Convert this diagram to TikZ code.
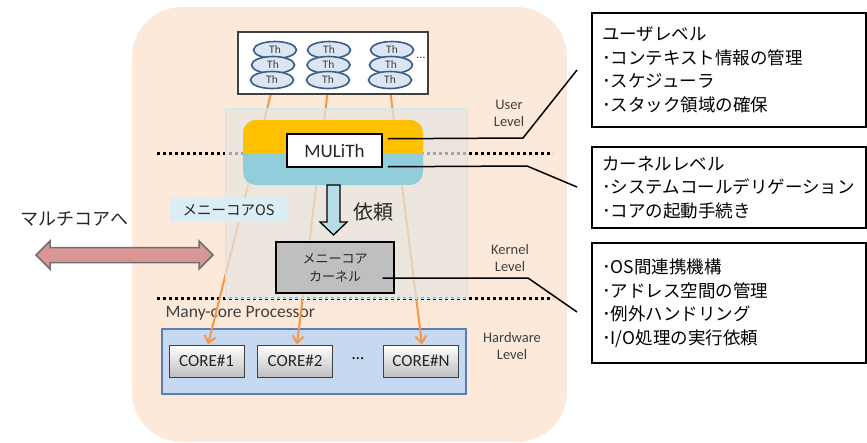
\documentclass[tikz,border=0pt]{standalone}
\usepackage{fontspec}
\setmainfont{Carlito}
\newfontfamily\jp{Noto Sans CJK JP}
\usetikzlibrary{shapes.geometric,shapes.arrows,arrows.meta}
\definecolor{peach}{HTML}{FDE9D9}
\definecolor{regiongray}{HTML}{E6E6E2}
\definecolor{regionedge}{HTML}{CFE6EE}
\definecolor{orangeln}{HTML}{F79646}
\definecolor{mulitop}{HTML}{FFC000}
\definecolor{mulibot}{HTML}{92CDDC}
\definecolor{arrowblue}{HTML}{B7DDE8}
\definecolor{kerngray}{HTML}{BFBFBF}
\definecolor{procblue}{HTML}{C6D9F1}
\definecolor{procedge}{HTML}{5A7EB0}
\definecolor{thfill}{HTML}{DCE6F2}
\definecolor{thedge}{HTML}{385D8A}
\definecolor{redarrow}{HTML}{D99694}
\definecolor{redarrowedge}{HTML}{6F6F6F}
\definecolor{oslabel}{HTML}{DAEEF3}
\definecolor{txtgray}{HTML}{404040}
\definecolor{txtdark}{HTML}{262626}
\tikzset{
  thnode/.style={ellipse,draw=thedge,line width=1.6pt,fill=thfill,minimum width=43pt,minimum height=17pt,inner sep=0pt,font=\fontsize{11.5}{11.5}\selectfont,text=txtgray},
  corebox/.style={draw=txtgray,line width=0.8pt,top color=white,bottom color=kerngray,minimum width=75pt,minimum height=32pt,inner sep=0pt,font=\fontsize{17}{17}\selectfont,text=txtdark},
  levellabel/.style={align=center,font=\fontsize{14.5}{17}\selectfont,text=txtgray},
  calloutbox/.style={draw=black,line width=1.5pt,fill=white,align=left,inner xsep=10pt,inner ysep=0pt,text width=254pt,font=\jp\fontsize{17.5}{23.5}\selectfont},
  levelline/.style={line width=3pt,dash pattern=on 3pt off 3pt},
  coreline/.style={draw=orangeln,line width=2pt,-{Straight Barb[length=7pt,width=11pt]}},
  calloutline/.style={draw=black,line width=1.5pt},
}
\begin{document}
\begin{tikzpicture}[x=1pt,y=-1pt]
\useasboundingbox (0,0) rectangle (867,442);
% background
\fill[peach,rounded corners=50pt] (132,7) rectangle (567,442);
% level separators
\draw[levelline] (157,153) -- (553,153);
\draw[levelline] (157,298) -- (553,298);
% processor
\node[draw=procedge,fill=procblue,line width=1.5pt,minimum width=304pt,minimum height=65pt,inner sep=0pt] (proc) at (314,361.5) {};
\node[anchor=west,font=\fontsize{17.5}{17.5}\selectfont,text=txtgray] (proclbl) at (162,313) {Many-core Processor};
\node[corebox] (c1) at (206.5,361) {CORE\#1};
\node[corebox] (c2) at (295,361) {CORE\#2};
\node[corebox] (c3) at (421,361) {CORE\#N};
\node[font=\fontsize{17}{17}\selectfont] (cdots) at (358,359) {…};
% thread ellipses (needed for connectors)
\node[thnode] (th11) at (275,50) {Th};
\node[thnode] (th12) at (273,65) {Th};
\node[thnode] (th13) at (272,80) {Th};
\node[thnode] (th21) at (329,50) {Th};
\node[thnode] (th22) at (328.5,65) {Th};
\node[thnode] (th23) at (328,80) {Th};
\node[thnode] (th31) at (392,50) {Th};
\node[thnode] (th32) at (391,65) {Th};
\node[thnode] (th33) at (390,80) {Th};
% orange connectors
\draw[coreline] (th13.south) -- ([xshift=1.5pt]c1.north);
\draw[coreline] (th23.south) -- ([xshift=2pt]c2.north);
\draw[coreline] (th33.south) -- ([xshift=1pt]c3.north);
% OS region (translucent)
\fill[regiongray,opacity=0.72] (225,108) rectangle (467,298);
\draw[regionedge,line width=0.8pt] (225,108) rectangle (467,298);
% thread box
\node[draw=txtgray,fill=white,line width=1.5pt,minimum width=190pt,minimum height=62pt,inner sep=0pt] (thr) at (333,63) {};
\node[thnode] at (th11) {Th};
\node[thnode] at (th12) {Th};
\node[thnode] at (th13) {Th};
\node[thnode] at (th21) {Th};
\node[thnode] at (th22) {Th};
\node[thnode] at (th23) {Th};
\node[thnode] at (th31) {Th};
\node[thnode] at (th32) {Th};
\node[thnode] at (th33) {Th};
\node[font=\fontsize{12}{12}\selectfont,text=txtgray] (thdots) at (421,58) {…};
% MULiTh library box
\fill[mulibot,rounded corners=13pt] (243,120) rectangle (423,185);
\begin{scope}
\clip (240,115) rectangle (426,153);
\fill[mulitop,rounded corners=13pt] (243,120) rectangle (423,185);
\end{scope}
\node[draw=black,fill=white,line width=1.5pt,minimum width=95pt,minimum height=33pt,inner sep=0pt,font=\fontsize{19}{19}\selectfont,text=txtdark] (mul) at (334.5,150.5) {MULiTh};
% request arrow
\draw[fill=arrowblue,line width=1.3pt] (327,185) -- (340,185) -- (340,222) -- (347,222) -- (333.5,235) -- (320,222) -- (327,222) -- cycle;
\node[font=\jp\fontsize{20}{20}\selectfont,text=txtdark] (irai) at (373,212) {依頼};
% OS label
\node[fill=oslabel,minimum width=117pt,minimum height=24pt,inner sep=0pt,font=\jp\fontsize{14.5}{14.5}\selectfont,text=txtdark] (oslbl) at (228.5,210) {メニーコアOS};
% kernel
\node[draw=black,fill=kerngray,line width=1.3pt,minimum width=118pt,minimum height=51pt,inner sep=0pt,align=center,font=\jp\fontsize{13}{18}\selectfont,text=txtdark] (kern) at (335,267.5) {メニーコア\\カーネル};
% level labels
\node[levellabel] (ulv) at (509,113) {User\\Level};
\node[levellabel] (klv) at (510,258.5) {Kernel\\Level};
\node[levellabel] (hlv) at (512,346.5) {Hardware\\Level};
% to multicore (double block arrow)
\draw[fill=redarrow,draw=redarrowedge,line width=1.5pt,line join=miter]
  (36,255) -- (50,241) -- (50,247.5) -- (199,247.5) -- (199,241) -- (213,255)
  -- (199,269) -- (199,262.5) -- (50,262.5) -- (50,269) -- cycle;
\node[font=\jp\fontsize{18}{18}\selectfont,text=txtdark] (mclbl) at (74,219) {マルチコアへ};
% callouts
\node[calloutbox,minimum height=114pt] (b1) at (729,70) {ユーザレベル\\･コンテキスト情報の管理\\･スケジューラ\\･スタック領域の確保};
\node[calloutbox,minimum height=81pt] (b2) at (729,187.5) {カーネルレベル\\･システムコールデリゲーション\\･コアの起動手続き};
\node[calloutbox,minimum height=120pt] (b3) at (729,303) {･OS間連携機構\\･アドレス空間の管理\\･例外ハンドリング\\･I/O処理の実行依頼};
\coordinate (e1) at (577,70);
\coordinate (e2) at (577,187);
\coordinate (e3) at (577,312);
\draw[calloutline] ([xshift=5pt,yshift=-5.5pt]mul.north east) -- (523,138) -- (e1);
\draw[calloutline] ([xshift=5pt,yshift=1pt]mul.south east) -- (527,166) -- (e2);
\draw[calloutline] ([xshift=-12pt,yshift=-10.5pt]kern.east) -- (528,278) -- (e3);
\end{tikzpicture}
\end{document}
